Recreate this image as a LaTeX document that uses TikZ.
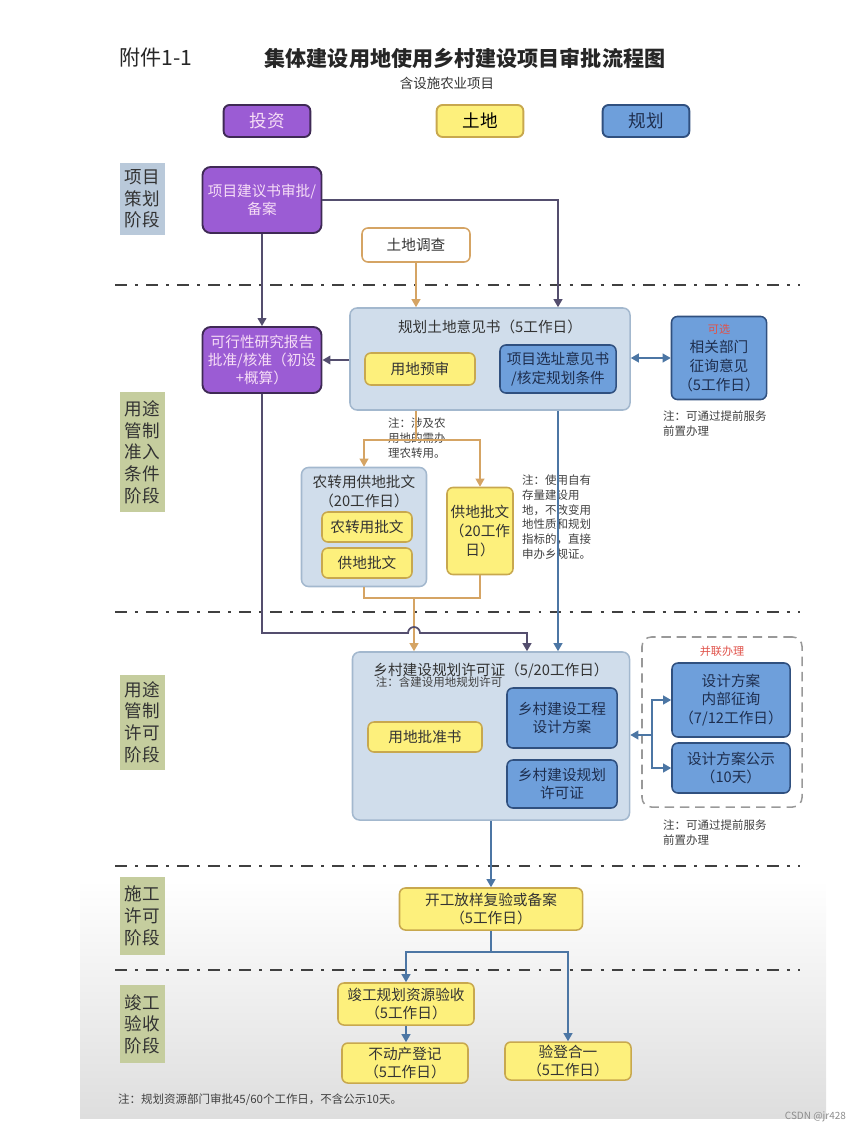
\documentclass[tikz,border=0pt]{standalone}
\usepackage{fontspec}
\setmainfont{Noto Sans CJK SC}
\usetikzlibrary{arrows.meta,calc}
\definecolor{invfill}{HTML}{9B5CD4}
\definecolor{invdraw}{HTML}{3F2A55}
\definecolor{invtext}{HTML}{F6DDF6}
\definecolor{landfill}{HTML}{FDF07C}
\definecolor{landdraw}{HTML}{C8A84E}
\definecolor{planfill}{HTML}{6E9FDB}
\definecolor{plandraw}{HTML}{30507F}
\definecolor{plantext}{HTML}{1E2E4E}
\definecolor{groupfill}{HTML}{D0DDEB}
\definecolor{groupdraw}{HTML}{A3B8CE}
\definecolor{stageblue}{HTML}{B9C9DA}
\definecolor{stagegreen}{HTML}{C5CD9E}
\definecolor{darkarrow}{HTML}{544E6E}
\definecolor{landarrow}{HTML}{D5A464}
\definecolor{planarrow}{HTML}{4C76A4}
\definecolor{notered}{HTML}{E0524A}

\begin{document}
\begin{tikzpicture}[x=0.03cm,y=-0.03cm]
\tikzset{
  stagebox/.style={fill=stagegreen,minimum width=1.35cm,inner sep=1pt,align=center,text=black!80,font=\fontsize{15}{18.5}\selectfont},
  legendbox/.style={rounded corners=5pt,line width=1.6pt,minimum width=2.6cm,minimum height=0.96cm,font=\fontsize{15}{18}\selectfont},
  invbox/.style={rounded corners=7pt,fill=invfill,draw=invdraw,line width=1.6pt,text=invtext,align=center,inner sep=1pt,font=\fontsize{12.5}{15.5}\selectfont},
  landbox/.style={rounded corners=5pt,fill=landfill,draw=landdraw,line width=1.3pt,text=black!80,align=center,inner sep=1pt,font=\fontsize{12.5}{16}\selectfont},
  planbox/.style={rounded corners=5pt,fill=planfill,draw=plandraw,line width=1.3pt,text=plantext,align=center,inner sep=1pt,font=\fontsize{12.5}{16}\selectfont},
  groupbox/.style={rounded corners=6pt,fill=groupfill,draw=groupdraw,line width=1.3pt,inner sep=0pt},
  grouptitle/.style={anchor=north,inner sep=0pt,align=center,text=black!80,font=\fontsize{12.5}{16}\selectfont},
  notetext/.style={align=left,inner sep=0pt,text=black!75,font=\fontsize{9.8}{12.5}\selectfont},
  phaseline/.style={draw=black!75,line width=2.4pt,dash pattern=on 10pt off 7pt on 2.5pt off 7pt},
  darkline/.style={draw=darkarrow,line width=1.5pt},
  landline/.style={draw=landarrow,line width=1.5pt},
  planline/.style={draw=planarrow,line width=1.5pt},
  toarrow/.style={-{Triangle[length=2.4mm,width=2.6mm]}},
  twoarrow/.style={{Triangle[length=2.4mm,width=2.6mm]}-{Triangle[length=2.4mm,width=2.6mm]}}
}
\useasboundingbox (0,0) rectangle (865,1133);
\shade[top color=white,bottom color=black!13] (80,880) rectangle (826,1118);
\foreach \yy in {285,612,866,970}
  \draw[phaseline] (115,\yy) -- (800,\yy);

\node[anchor=west,text=black!85,font=\fontsize{18}{20}\selectfont] (n_annex) at (115,58) {附件1-1};
\node[text=black!85,font=\bfseries\fontsize{18}{20}\selectfont] (n_title) at (465,58) {集体建设用地使用乡村建设项目审批流程图};
\node[text=black!80,font=\fontsize{11.5}{13}\selectfont] (n_subtitle) at (447,83) {含设施农业项目};

\node[legendbox,fill=invfill,draw=invdraw,text=invtext] (n_leg_inv) at (267,121) {投资};
\node[legendbox,fill=landfill,draw=landdraw] (n_leg_land) at (480,121) {土地};
\node[legendbox,fill=planfill,draw=plandraw,text=plantext] (n_leg_plan) at (646,121) {规划};

\node[stagebox,fill=stageblue,minimum height=2.16cm] (n_stage_plan) at (142,199) {项目\\策划\\阶段};
\node[stagebox,minimum height=3.6cm] (n_stage_entry) at (142,452) {用途\\管制\\准入\\条件\\阶段};
\node[stagebox,minimum height=2.85cm] (n_stage_permit) at (142,722) {用途\\管制\\许可\\阶段};
\node[stagebox,minimum height=2.34cm] (n_stage_build) at (142,916) {施工\\许可\\阶段};
\node[stagebox,minimum height=2.34cm] (n_stage_accept) at (142,1024) {竣工\\验收\\阶段};

\node[invbox,minimum width=3.57cm,minimum height=1.98cm] (n_proposal) at (262,200) {项目建议书审批/\\备案};
\node[landbox,fill=white,draw=landarrow,minimum width=3.24cm,minimum height=1.02cm] (n_survey) at (416,245) {土地调查};
\node[groupbox,minimum width=8.4cm,minimum height=3.06cm,label={[grouptitle,yshift=-0.38cm]north:规划土地意见书（5工作日）}] (n_opinion) at (490,359) {};
\node[landbox,minimum width=3.3cm,minimum height=0.96cm] (n_preexam) at (420,369) {用地预审};
\node[planbox,minimum width=3.48cm,minimum height=1.44cm] (n_siting) at (558,369) {项目选址意见书\\/核定规划条件};
\node[invbox,minimum width=3.57cm,minimum height=1.98cm] (n_feasible) at (262,360) {可行性研究报告\\批准/核准（初设\\+概算）};
\node[planbox,minimum width=2.85cm,minimum height=2.49cm] (n_consult) at (719,358) {{\color{notered}\fontsize{9.5}{11}\selectfont 可选}\\相关部门\\征询意见\\（5工作日）};
\node[notetext,anchor=north west] (n_note_consult) at (663,411) {注：可通过提前服务\\前置办理};

\node[notetext,anchor=north west] (n_note_farm) at (388,418) {注：涉及农\\用地的需办\\理农转用。};
\node[groupbox,minimum width=3.75cm,minimum height=3.57cm,label={[grouptitle,yshift=-0.24cm]north:农转用供地批文\\（20工作日）}] (n_convert) at (364,527) {};
\node[landbox,minimum width=2.7cm,minimum height=0.9cm] (n_convert_doc) at (367,527) {农转用批文};
\node[landbox,minimum width=2.7cm,minimum height=0.9cm] (n_supply_doc) at (367,563) {供地批文};
\node[landbox,minimum width=1.98cm,minimum height=2.61cm] (n_supply) at (480,531) {供地批文\\（20工作\\日）};
\node[notetext,anchor=north west] (n_note_stock) at (522,475) {注：使用自有\\存量建设用\\地，不改变用\\地性质和规划\\指标的，直接\\申办乡规证。};

\node[groupbox,minimum width=8.31cm,minimum height=5.04cm,label={[grouptitle,yshift=-0.33cm]north:乡村建设规划许可证（5/20工作日）},label={[notetext,anchor=north west,xshift=0.72cm,yshift=-0.75cm]north west:注：含建设用地规划许可}] (n_village) at (491,736) {};
\node[landbox,minimum width=3.42cm,minimum height=0.9cm] (n_approval) at (425,737) {用地批准书};
\node[planbox,minimum width=3.3cm,minimum height=1.8cm] (n_design) at (562,718) {乡村建设工程\\设计方案};
\node[planbox,minimum width=3.3cm,minimum height=1.44cm] (n_license) at (562,784) {乡村建设规划\\许可证};
\node[draw=black!40,line width=1.3pt,dash pattern=on 8pt off 5pt,rounded corners=8pt,minimum width=4.8cm,minimum height=5.1cm,label={[grouptitle,yshift=-0.3cm,text=notered,font=\fontsize{9.5}{11}\selectfont]north:并联办理}] (n_parallel) at (722,722) {};
\node[planbox,minimum width=3.54cm,minimum height=2.22cm] (n_inner) at (731,700) {设计方案\\内部征询\\（7/12工作日）};
\node[planbox,minimum width=3.54cm,minimum height=1.5cm] (n_publish) at (731,768) {设计方案公示\\（10天）};
\node[notetext,anchor=north west] (n_note_design) at (663,820) {注：可通过提前服务\\前置办理};

\node[landbox,minimum width=5.49cm,minimum height=1.26cm] (n_setout) at (491,909) {开工放样复验或备案\\（5工作日）};
\node[landbox,minimum width=4.08cm,minimum height=1.26cm] (n_finish) at (406,1004) {竣工规划资源验收\\（5工作日）};
\node[landbox,minimum width=3.78cm,minimum height=1.2cm] (n_register) at (405,1063) {不动产登记\\（5工作日）};
\node[landbox,minimum width=3.78cm,minimum height=1.14cm] (n_combined) at (568,1061) {验登合一\\（5工作日）};
\node[notetext,anchor=west] (n_footnote) at (118,1100) {注：规划资源部门审批45/60个工作日，不含公示10天。};
\node[anchor=east,text=black!45,font=\fontsize{8.5}{10}\selectfont] (n_mark) at (850,1117) {CSDN @jr428};

\coordinate (j_farm) at (416,440);
\coordinate (j_merge) at (414,598);
\coordinate (j_cross) at (414,633);
\coordinate (j_parallel) at (652,735);
\coordinate (j_done) at (491,952);

\draw[darkline,toarrow] (n_proposal.south) -- (n_feasible.north);
\draw[darkline,toarrow] (n_proposal.east) -| (n_siting.north |- n_opinion.north);
\draw[landline,toarrow] (n_survey.south) -- (n_survey |- n_opinion.north);
\draw[darkline,toarrow] (n_opinion.west |- n_feasible) -- (n_feasible.east);
\draw[planline,twoarrow] (n_opinion.east |- n_consult) -- (n_consult.west);
\draw[landline] (n_opinion.south -| j_farm) -- (j_farm);
\draw[landline,toarrow] (j_farm) -| (n_convert.north);
\draw[landline,toarrow] (j_farm) -| (n_supply.north);
\draw[landline] (n_convert.south) |- (j_merge) -| (n_supply.south);
\draw[landline,toarrow] (j_merge) -- (j_merge |- n_village.north);
\draw[darkline,toarrow] (n_feasible.south) |- ($(j_cross)+(-6,0)$) arc[start angle=180,end angle=360,radius=6] -| ($(n_village.north)+(36,0)$);
\draw[planline,toarrow] (n_siting |- n_opinion.south) -- (n_siting |- n_village.north);
\draw[planline,toarrow] (j_parallel) -- (n_village.east |- j_parallel);
\draw[planline,toarrow] (j_parallel) |- (n_inner.west);
\draw[planline,toarrow] (j_parallel) |- (n_publish.west);
\draw[planline,toarrow] (n_village.south -| n_setout) -- (n_setout.north);
\draw[planline] (n_setout.south) -- (j_done);
\draw[planline,toarrow] (j_done) -| (n_finish.north);
\draw[planline,toarrow] (j_done) -| (n_combined.north);
\draw[planline,toarrow] (n_finish.south) -- (n_finish.south |- n_register.north);
\end{tikzpicture}
\end{document}
